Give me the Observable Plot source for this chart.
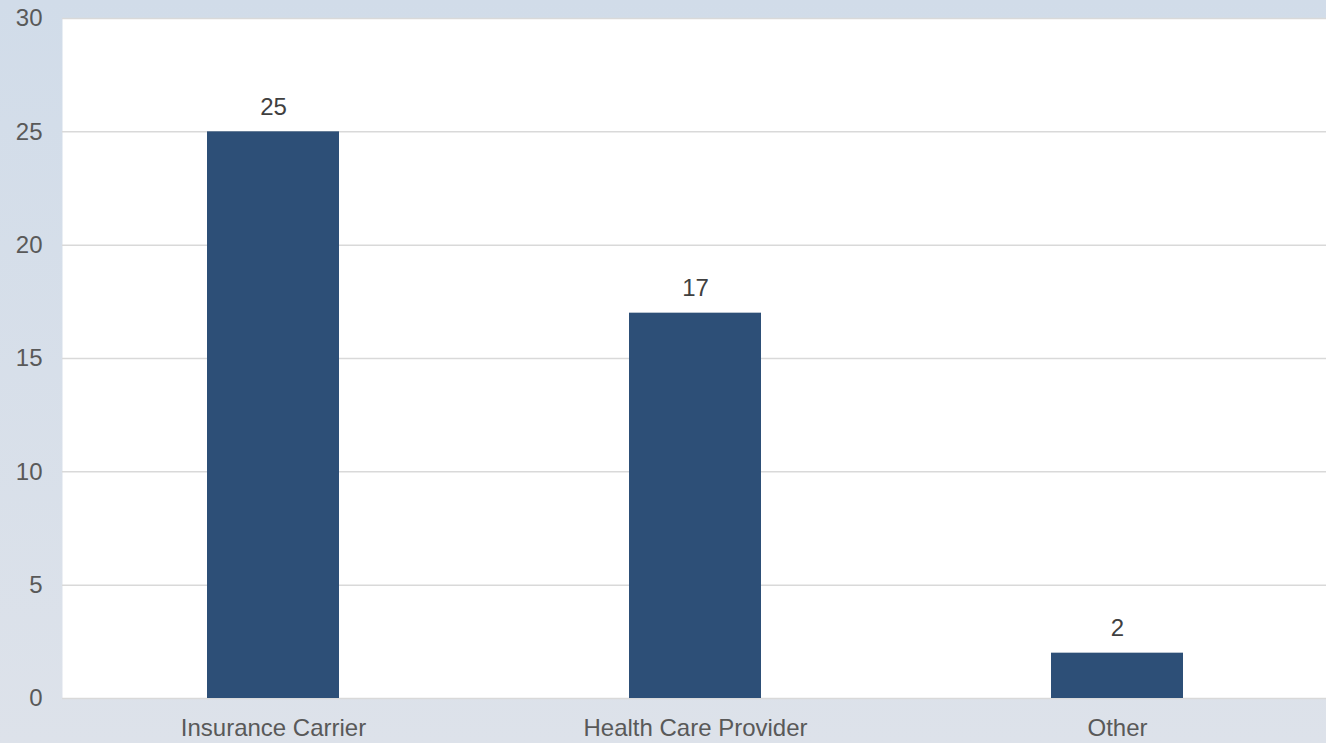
<!DOCTYPE html>
<html>
<head>
<meta charset="utf-8">
<script src="https://cdn.jsdelivr.net/npm/d3@7"></script>
<script src="https://cdn.jsdelivr.net/npm/@observablehq/plot@0.6"></script>
<style>
  html, body { margin: 0; padding: 0; }
  body { width: 1326px; height: 743px; overflow: hidden;
         background: linear-gradient(to bottom, #d1dce9 0%, #dde2ea 100%); }
  #chart svg { display: block; background: transparent; }
</style>
</head>
<body>
<div id="chart"></div>
<script>
const categories = ["Insurance Carrier", "Health Care Provider", "Other"];
const values = [25, 17, 2];
const yTicks = [0, 5, 10, 15, 20, 25, 30];

const data = categories.map((c, i) => ({category: c, value: values[i]}));

const chart = Plot.plot({
  width: 1326,
  height: 743,
  marginLeft: 62,
  marginRight: -2,
  marginTop: 18,
  marginBottom: 45,
  style: {fontFamily: "'Liberation Sans', Arial, sans-serif", fontSize: "24px", background: "transparent", overflow: "hidden"},
  x: {domain: categories, paddingInner: 0.687, paddingOuter: 0.3435, label: null},
  y: {domain: [0, 30], ticks: yTicks, label: null},
  marks: [
    Plot.frame({fill: "white", stroke: null}),
    Plot.ruleY(yTicks, {stroke: "#d9d9d9", strokeWidth: 1.5}),
    Plot.barY(data, {x: "category", y: "value", fill: "#2d4f77"}),
    Plot.text(data, {x: "category", y: "value", text: d => String(d.value), dy: -25, fill: "#404040", fontSize: 24}),
    Plot.axisY({ticks: yTicks, tickSize: 0, tickPadding: 20, fill: "#595959", fontSize: 24, label: null}),
    Plot.axisX({tickSize: 0, tickPadding: 20, fill: "#595959", fontSize: 24, label: null})
  ]
});
document.getElementById("chart").appendChild(chart);
</script>
</body>
</html>
